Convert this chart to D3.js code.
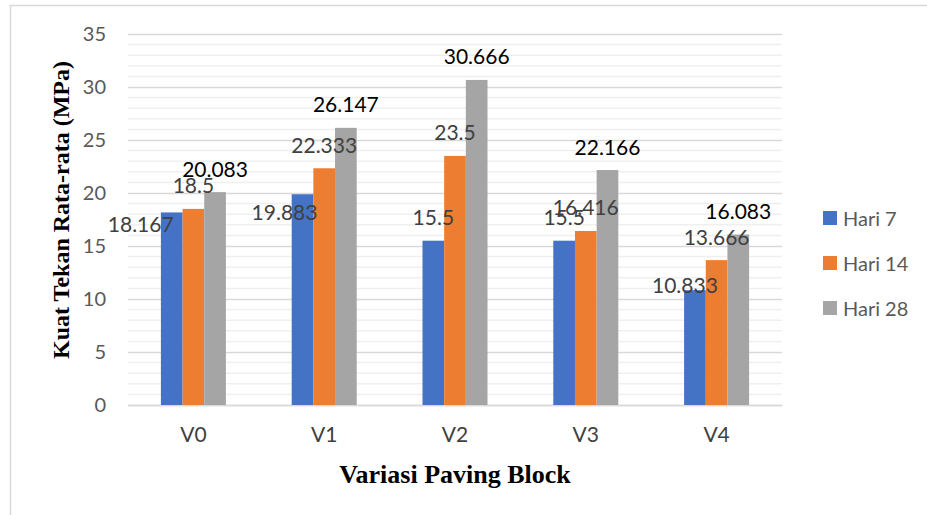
<!DOCTYPE html>
<html>
<head>
<meta charset="utf-8">
<script src="https://cdn.jsdelivr.net/npm/d3@7"></script>
<style>
  html, body { margin: 0; padding: 0; background: #ffffff; }
  svg { display: block; }
</style>
</head>
<body>
<svg id="chart" width="927" height="515"></svg>
<script>
// Compressive strength of paving block variations at 7, 14 and 28 days
const categories = ["V0", "V1", "V2", "V3", "V4"];
const seriesNames = ["Hari 7", "Hari 14", "Hari 28"];
const hari7  = [18.167, 19.883, 15.5, 15.5, 10.833];
const hari14 = [18.5, 22.333, 23.5, 16.416, 13.666];
const hari28 = [20.083, 26.147, 30.666, 22.166, 16.083];
const yTicks = [0, 5, 10, 15, 20, 25, 30, 35];

const seriesValues = [hari7, hari14, hari28];
const colors = ["#4472C4", "#ED7D31", "#A5A5A5"];
const labelColors = ["#404040", "#404040", "#000000"];

// A few Hari 7 labels sit shifted away from their bars (pixels)
const labelNudge = {
  "Hari 7": [[-31, 35], [-18, 41], [0, 0], [0, 0], [-10, 18]]
};

const svg = d3.select("#chart");
const W = 927, H = 515;
const plot = { left: 128, right: 782, top: 34, bottom: 405 };

// Outer frame (left and top edges visible)
svg.append("line").attr("x1", 10.5).attr("x2", 10.5).attr("y1", 5).attr("y2", H)
  .attr("stroke", "#d9d9d9").attr("stroke-width", 1.5);
svg.append("line").attr("x1", 10).attr("x2", W).attr("y1", 5.5).attr("y2", 5.5)
  .attr("stroke", "#d9d9d9").attr("stroke-width", 1.5);

const x0 = d3.scaleBand().domain(categories).range([plot.left, plot.right]).paddingInner(0).paddingOuter(0);
const groupWidth = x0.bandwidth() * 0.497;
const x1 = d3.scaleBand().domain(seriesNames).range([0, groupWidth]).padding(0);
const y = d3.scaleLinear().domain([0, 35]).range([plot.bottom, plot.top]);

// Minor gridlines every 1 unit
const minor = d3.range(0, 36).filter(v => v % 5 !== 0);
svg.append("g").selectAll("line").data(minor).join("line")
  .attr("x1", plot.left).attr("x2", plot.right)
  .attr("y1", d => y(d)).attr("y2", d => y(d))
  .attr("stroke", "#efefef").attr("stroke-width", 1.5);

// Major gridlines and y tick labels via axis
const yAxis = d3.axisLeft(y).tickValues(yTicks).tickSize(-(plot.right - plot.left)).tickPadding(22);
const gy = svg.append("g").attr("transform", `translate(${plot.left},0)`).call(yAxis);
gy.select(".domain").remove();
gy.selectAll(".tick line").attr("stroke", "#d9d9d9").attr("stroke-width", 1.5);
gy.selectAll(".tick text")
  .attr("fill", "#595959")
  .style("font-family", "Lato, 'Open Sans', sans-serif")
  .style("font-size", "20px");

// X axis category labels
const xAxis = d3.axisBottom(x0).tickSize(0).tickPadding(22);
const gx = svg.append("g").attr("transform", `translate(0,${plot.bottom})`).call(xAxis);
gx.select(".domain").attr("stroke", "#d9d9d9").attr("stroke-width", 1.5);
gx.selectAll(".tick text")
  .attr("fill", "#404040")
  .style("font-family", "Lato, 'Open Sans', sans-serif")
  .style("font-size", "21px");

// Bars
const groupOffset = (x0.bandwidth() - groupWidth) / 2;
const bars = [];
categories.forEach((c, ci) => {
  seriesNames.forEach((s, si) => {
    bars.push({ cat: c, series: s, si, ci, value: seriesValues[si][ci] });
  });
});

svg.append("g").selectAll("rect").data(bars).join("rect")
  .attr("x", d => x0(d.cat) + groupOffset + x1(d.series))
  .attr("width", x1.bandwidth())
  .attr("y", d => y(d.value))
  .attr("height", d => y(0) - y(d.value))
  .attr("fill", d => colors[d.si]);

// Value labels
svg.append("g").selectAll("text").data(bars).join("text")
  .attr("x", d => {
    const n = labelNudge[d.series] ? labelNudge[d.series][d.ci][0] : 0;
    return x0(d.cat) + groupOffset + x1(d.series) + x1.bandwidth() / 2 + n;
  })
  .attr("y", d => {
    const n = labelNudge[d.series] ? labelNudge[d.series][d.ci][1] : 0;
    return y(d.value) - 24 + n;
  })
  .attr("text-anchor", "middle")
  .attr("dominant-baseline", "central")
  .attr("fill", d => labelColors[d.si])
  .style("font-family", "Lato, 'Open Sans', sans-serif")
  .style("font-size", "21px")
  .text(d => String(d.value));

// Legend
const legend = svg.append("g");
const legendRows = seriesNames.map((s, i) => ({ s, i }));
const lg = legend.selectAll("g").data(legendRows).join("g")
  .attr("transform", d => `translate(823, ${218 + d.i * 45})`);
lg.append("rect").attr("x", 0).attr("y", -7).attr("width", 14).attr("height", 14)
  .attr("fill", d => colors[d.i]);
lg.append("text").attr("x", 20).attr("y", 0)
  .attr("dominant-baseline", "central")
  .attr("fill", "#595959")
  .style("font-family", "Lato, 'Open Sans', sans-serif")
  .style("font-size", "20px")
  .text(d => d.s);

// Axis titles
svg.append("text")
  .attr("transform", `translate(61, 210) rotate(-90)`)
  .attr("text-anchor", "middle")
  .attr("dominant-baseline", "central")
  .attr("fill", "#000")
  .style("font-family", "'Liberation Serif', 'Times New Roman', serif")
  .style("font-weight", "bold")
  .style("font-size", "24px")
  .text("Kuat Tekan Rata-rata (MPa)");

svg.append("text")
  .attr("x", 455).attr("y", 474)
  .attr("text-anchor", "middle")
  .attr("dominant-baseline", "central")
  .attr("fill", "#000")
  .style("font-family", "'Liberation Serif', 'Times New Roman', serif")
  .style("font-weight", "bold")
  .style("font-size", "26px")
  .text("Variasi Paving Block");
</script>
</body>
</html>
